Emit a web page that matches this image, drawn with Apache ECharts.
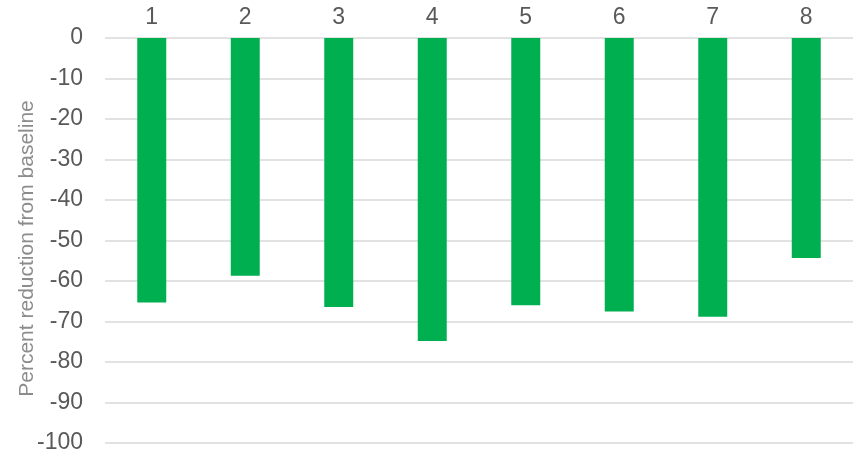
<!DOCTYPE html>
<html>
<head>
<meta charset="utf-8">
<script src="https://cdn.jsdelivr.net/npm/echarts@6/dist/echarts.min.js"></script>
<style>
  html, body { margin: 0; padding: 0; background: #fff; }
  #chart { width: 854px; height: 454px; }
</style>
</head>
<body>
<div id="chart"></div>
<script>
// data
const categories = ['1', '2', '3', '4', '5', '6', '7', '8']
const reduction = [-65.3, -58.7, -66.4, -74.8, -66.0, -67.5, -68.8, -54.3]
const yTicks = { min: -100, max: 0, interval: 10 }

const chart = echarts.init(document.getElementById('chart'))

const option = {
  animation: false,
  grid: { left: 105, right: 1, top: 38, bottom: 11, containLabel: false, outerBoundsMode: 'none' },
  xAxis: {
    type: 'category',
    position: 'top',
    data: categories,
    axisLine: { show: false },
    axisTick: { show: false },
    axisLabel: {
      margin: 9,
      color: '#595959',
      fontFamily: 'Liberation Sans, Arial',
      fontSize: 23
    }
  },
  yAxis: {
    type: 'value',
    min: yTicks.min,
    max: yTicks.max,
    interval: yTicks.interval,
    name: 'Percent reduction from baseline',
    nameLocation: 'middle',
    nameGap: 67,
    nameMoveOverlap: false,
    nameTextStyle: {
      color: '#8c8c8c',
      fontFamily: 'Liberation Sans, Arial',
      fontSize: 21,
      padding: [0, 16, 0, 0]
    },
    axisLine: { show: false },
    axisTick: { show: false },
    axisLabel: {
      margin: 22,
      color: '#595959',
      fontFamily: 'Liberation Sans, Arial',
      fontSize: 23
    },
    splitLine: { lineStyle: { color: '#d9d9d9', width: 1.5 } }
  },
  series: [
    {
      type: 'bar',
      data: reduction,
      barWidth: '31%',
      itemStyle: { color: '#00b050' }
    }
  ]
}

chart.setOption(option)
</script>
</body>
</html>
